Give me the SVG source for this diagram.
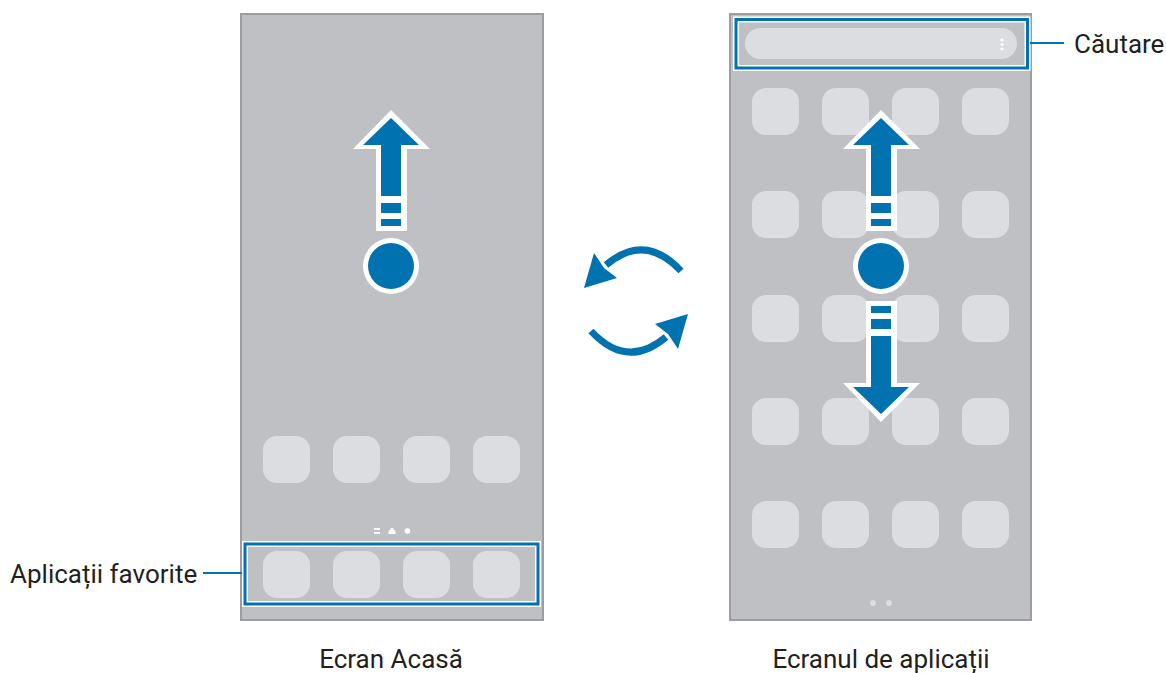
<svg xmlns="http://www.w3.org/2000/svg" width="1166" height="673" viewBox="0 0 1166 673">
<style>
.phone{fill:#bfc0c4;stroke:#9c9da0;stroke-width:2}
.ico{fill:#dcdde0}
.lbl{font-family:Roboto,"Liberation Sans",sans-serif;font-size:26px;fill:#231f20}
.hl-w{fill:none;stroke:#ffffff;stroke-width:6}
.hl-b{fill:none;stroke:#0072b0;stroke-width:3}
.blue{fill:#0072b0}
.wht{fill:#ffffff}
.lead{stroke:#0072b0;stroke-width:2;fill:none}
</style>
<defs>
<rect id="icon" width="47" height="47" rx="14" class="ico"/>
<g id="up">
<polygon class="wht" points="391,110 430,149 407,149 407,231 376,231 376,149 353,149"/>
<polygon class="blue" points="391,118 419,145 401,145 401,196 381,196 381,145 363,145"/>
<rect class="blue" x="381" y="203" width="20" height="10"/>
<rect class="blue" x="381" y="219" width="20" height="7"/>
</g>
<g id="rot">
<path d="M681 271 Q645 232 606 265" fill="none" stroke="#0072b0" stroke-width="7"/>
<polygon class="blue" points="584,288 594,253 604,268 617,278"/>
</g>
</defs>
<rect width="1166" height="673" fill="#ffffff"/>

<g id="home-screen">
<rect class="phone" x="241" y="14" width="302" height="606"/>
<use href="#up"/>
<circle cx="391" cy="266" r="28" class="wht"/>
<circle cx="391" cy="266" r="23" class="blue"/>
<use href="#icon" x="263" y="436"/>
<use href="#icon" x="333" y="436"/>
<use href="#icon" x="403" y="436"/>
<use href="#icon" x="473" y="436"/>
<rect x="374" y="528" width="6" height="1.8" class="wht"/>
<rect x="374" y="532" width="6" height="1.8" class="wht"/>
<polygon class="wht" points="392,527.5 395.5,531 395.5,534 388.5,534 388.5,531"/>
<circle cx="407.5" cy="531" r="2.8" class="wht"/>
</g>

<g id="favorite-apps">
<rect class="hl-w" x="245" y="544" width="293" height="60"/>
<rect class="hl-b" x="245" y="544" width="293" height="60"/>
<use href="#icon" x="263" y="551"/>
<use href="#icon" x="333" y="551"/>
<use href="#icon" x="403" y="551"/>
<use href="#icon" x="473" y="551"/>
</g>

<g id="apps-screen">
<rect class="phone" x="730" y="14" width="301" height="606"/>
<g id="app-grid">
<use href="#icon" x="752" y="88"/><use href="#icon" x="822" y="88"/><use href="#icon" x="892" y="88"/><use href="#icon" x="962" y="88"/>
<use href="#icon" x="752" y="191"/><use href="#icon" x="822" y="191"/><use href="#icon" x="892" y="191"/><use href="#icon" x="962" y="191"/>
<use href="#icon" x="752" y="295"/><use href="#icon" x="822" y="295"/><use href="#icon" x="892" y="295"/><use href="#icon" x="962" y="295"/>
<use href="#icon" x="752" y="398"/><use href="#icon" x="822" y="398"/><use href="#icon" x="892" y="398"/><use href="#icon" x="962" y="398"/>
<use href="#icon" x="752" y="501"/><use href="#icon" x="822" y="501"/><use href="#icon" x="892" y="501"/><use href="#icon" x="962" y="501"/>
</g>
<use href="#up" x="490"/>
<use href="#up" transform="translate(0,532) scale(1,-1) translate(490,0)"/>
<circle cx="881" cy="266" r="28" class="wht"/>
<circle cx="881" cy="266" r="23" class="blue"/>
<circle cx="873" cy="603" r="3" fill="#dcdde0"/>
<circle cx="889" cy="603" r="3" fill="#dcdde0"/>
</g>

<g id="search-bar">
<rect class="hl-w" x="736" y="19.5" width="291.5" height="48.5"/>
<rect class="hl-b" x="736" y="19.5" width="291.5" height="48.5"/>
<rect x="745" y="28" width="272" height="31" rx="15.5" class="ico"/>
<circle cx="1002" cy="40" r="1.6" class="wht"/>
<circle cx="1002" cy="44.5" r="1.6" class="wht"/>
<circle cx="1002" cy="49" r="1.6" class="wht"/>
</g>

<g id="switch-arrows">
<use href="#rot"/>
<use href="#rot" transform="rotate(180 636 301)"/>
</g>

<g id="connectors">
<line class="lead" x1="1030" y1="43" x2="1064" y2="43"/>
<line class="lead" x1="203" y1="573" x2="242" y2="573"/>
</g>

<g id="labels">
<text class="lbl" x="1074" y="53">Căutare</text>
<text class="lbl" x="10" y="583">Aplicații favorite</text>
<text class="lbl" x="391" y="668" text-anchor="middle">Ecran Acasă</text>
<text class="lbl" x="881" y="668" text-anchor="middle">Ecranul de aplicații</text>
</g>
</svg>
